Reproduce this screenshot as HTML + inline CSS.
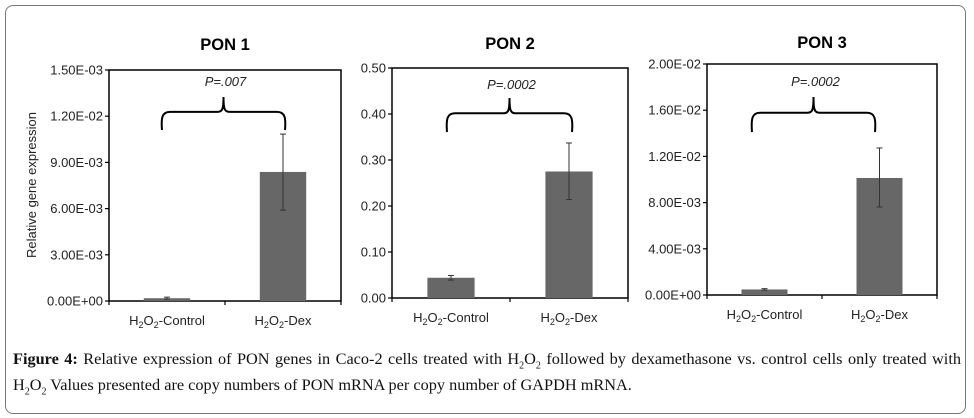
<!DOCTYPE html>
<html><head><meta charset="utf-8"><style>
html,body{margin:0;padding:0;background:#fff;}
#wrap{position:relative;width:974px;height:418px;overflow:hidden;}
#frame{position:absolute;left:5px;top:5px;width:961px;height:409px;border:1.5px solid #777;border-radius:8px;box-sizing:border-box;}
#cap{position:absolute;left:13px;top:350px;width:948px;font-family:"Liberation Serif",serif;font-size:16.3px;line-height:18.5px;text-align:justify;text-align-last:left;color:#111;}
svg text{font-family:"Liberation Sans",sans-serif;}
</style></head><body>
<div id="wrap">
<div id="frame"></div>
<svg id="svg" width="974" height="418" style="position:absolute;left:0;top:0"></svg>
<div id="cap"><b>Figure 4:</b> Relative expression of PON genes in Caco-2 cells treated with H<sub style="font-size:10px">2</sub>O<sub style="font-size:10px">2</sub> followed by dexamethasone vs. control cells only treated with H<sub style="font-size:10px">2</sub>O<sub style="font-size:10px">2</sub> Values presented are copy numbers of PON mRNA per copy number of GAPDH mRNA.</div>
</div>
<script>
const categories = ["Control", "Dex"];
const pon1Values = [0.00018, 0.00838];
const pon1ErrHi = [0.00025, 0.01084];
const pon1ErrLo = [0.00012, 0.0059];
const pon1Ticks = ["0.00E+00","3.00E-03","6.00E-03","9.00E-03","1.20E-02","1.50E-03"];
const pon2Values = [0.044, 0.275];
const pon2ErrHi = [0.049, 0.337];
const pon2ErrLo = [0.039, 0.214];
const pon2Ticks = ["0.00","0.10","0.20","0.30","0.40","0.50"];
const pon3Values = [0.00048, 0.01013];
const pon3ErrHi = [0.00055, 0.01273];
const pon3ErrLo = [0.00042, 0.00762];
const pon3Ticks = ["0.00E+00","4.00E-03","8.00E-03","1.20E-02","1.60E-02","2.00E-02"];
const titles = ["PON 1","PON 2","PON 3"];
const pvals = ["P=.007","P=.0002","P=.0002"];

const NS="http://www.w3.org/2000/svg";
const svg=document.getElementById('svg');
function mk(tag,attrs,parent){const e=document.createElementNS(NS,tag);for(const k in attrs)e.setAttribute(k,attrs[k]);(parent||svg).appendChild(e);return e;}

const panels=[
 {x0:109,x1:341,top:70,bot:301,max:0.015,vals:pon1Values,hi:pon1ErrHi,lo:pon1ErrLo,ticks:pon1Ticks,bx:[162,285],by:[97,130],py:86,ty:50},
 {x0:392,x1:628,top:68,bot:298,max:0.5,vals:pon2Values,hi:pon2ErrHi,lo:pon2ErrLo,ticks:pon2Ticks,bx:[447,572],by:[98,132],py:89,ty:49},
 {x0:707,x1:937,top:64,bot:295,max:0.02,vals:pon3Values,hi:pon3ErrHi,lo:pon3ErrLo,ticks:pon3Ticks,bx:[752,875],by:[97,132],py:86,ty:48}
];
panels.forEach((p,i)=>{
  const g=mk('g',{});
  
  
  const y=v=>p.bot-(v/p.max)*(p.bot-p.top);
  const w=p.x1-p.x0, band=w/categories.length, bw=band*0.4;
  const cx=j=>p.x0+band*(j+0.5);
  const t=mk('text',{x:(p.x0+p.x1)/2,y:p.ty,'text-anchor':'middle','font-size':16.5,'font-weight':'bold',fill:'#000'},g);
  t.textContent=titles[i];
  
  
  const fr=mk('rect',{x:p.x0,y:p.top,width:w,height:p.bot-p.top,fill:'none',stroke:'#000','stroke-width':1.5},g);
  
  
  p.ticks.forEach((lab,k)=>{
    const v=p.max*k/(p.ticks.length-1);
    const yy=y(v);
    mk('line',{x1:p.x0-4,x2:p.x0,y1:yy,y2:yy,stroke:'#000','stroke-width':1.2},g);
    const tx=mk('text',{x:p.x0-6,y:yy+4.5,'text-anchor':'end','font-size':13,fill:'#222'},g);
    tx.textContent=lab;
    
    
  });
  for(let k=0;k<=categories.length;k++){const xx=p.x0+band*k;mk('line',{x1:xx,x2:xx,y1:p.bot,y2:p.bot+4,stroke:'#000','stroke-width':1.2},g);}
  categories.forEach((c,j)=>{
    const tx=mk('text',{x:cx(j),y:p.bot+24,'text-anchor':'middle','font-size':13,fill:'#222'},g);
    tx.innerHTML='H<tspan font-size="9" dy="3">2</tspan><tspan dy="-3">O</tspan><tspan font-size="9" dy="3">2</tspan><tspan dy="-3">-'+(c==='Control'?'Control':'Dex')+'</tspan>';
    
    
    const b=mk('rect',{x:cx(j)-bw/2,y:y(p.vals[j]),width:bw,height:p.bot-y(p.vals[j]),fill:'#676767'},g);
    
    
    const e=mk('g',{stroke:'#333','stroke-width':1},g);
    
    
    mk('line',{x1:cx(j),x2:cx(j),y1:y(p.hi[j]),y2:y(p.lo[j])},e);
    mk('line',{x1:cx(j)-3,x2:cx(j)+3,y1:y(p.hi[j]),y2:y(p.hi[j])},e);
    mk('line',{x1:cx(j)-3,x2:cx(j)+3,y1:y(p.lo[j]),y2:y(p.lo[j])},e);
  });
  const [a,b]=p.bx,[t0,t1]=p.by,m=(a+b)/2,mid=t0+(t1-t0)*0.45;
  const d=`M${a},${t1} C${a-1},${mid+6} ${a},${mid} ${a+8},${mid} L${m-6},${mid} C${m-1},${mid} ${m},${mid-3} ${m},${t0} C${m},${mid-3} ${m+1},${mid} ${m+6},${mid} L${b-8},${mid} C${b},${mid} ${b+1},${mid+6} ${b},${t1}`;
  const br=mk('path',{d:d,fill:'none',stroke:'#000','stroke-width':2},g);
  
  
  const pt=mk('text',{x:m+2,y:p.py,'text-anchor':'middle','font-size':13,'font-style':'italic',fill:'#222'},g);
  pt.textContent=pvals[i];
  
  
});
const yt=mk('text',{x:0,y:0,transform:'translate(36,185) rotate(-90)','text-anchor':'middle','font-size':13,fill:'#222'});
yt.textContent='Relative gene expression';


</script>
</body></html>
